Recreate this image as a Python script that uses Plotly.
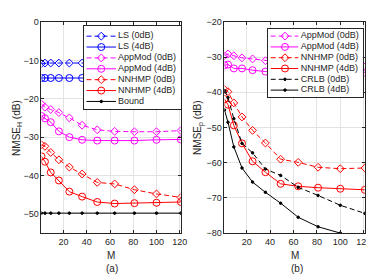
import plotly.graph_objects as go

# ---------------- data ----------------
M = [1, 4, 9, 16, 25, 36, 49, 64, 81, 100, 121]

# panel (a): NMSE_H (dB)
LS_0dB = [-10.8, -10.7, -10.7, -10.7, -10.7, -10.7, -10.7, -10.7, -10.7, -10.7, -10.7]
LS_4dB = [-14.6, -14.6, -14.6, -14.6, -14.6, -14.6, -14.6, -14.6, -14.6, -14.6, -14.6]
APPMOD_A_0dB = [-21.4, -22.2, -22.8, -23.6, -25.0, -26.9, -28.1, -28.5, -28.6, -28.6, -28.3]
APPMOD_A_4dB = [-24.5, -25.1, -26.1, -28.5, -30.0, -30.7, -30.9, -30.9, -30.9, -30.7, -30.6]
NNHMP_A_0dB = [-32.0, -32.4, -34.0, -35.9, -37.8, -39.6, -41.8, -42.2, -43.7, -44.8, -45.7]
NNHMP_A_4dB = [-35.0, -36.4, -39.2, -41.3, -44.2, -45.5, -46.9, -47.3, -47.2, -47.1, -46.9]
BOUND_A = [-49.8, -49.8, -49.8, -49.8, -49.8, -49.8, -49.8, -49.8, -49.8, -49.8, -49.8]

# panel (b): NMSE_p (dB)
APPMOD_B_0dB = [-29.6, -29.1, -29.6, -30.2, -30.5, -31.0, -31.4, -31.8, -32.2, -32.5, -32.8]
APPMOD_B_4dB = [-32.3, -32.1, -33.2, -33.2, -33.7, -34.1, -34.2, -34.3, -34.3, -34.3, -34.4]
NNHMP_B_0dB = [-39.2, -39.8, -43.0, -47.0, -50.8, -54.4, -59.0, -59.9, -61.3, -61.7, -61.5]
NNHMP_B_4dB = [-41.9, -43.5, -49.4, -54.5, -59.6, -62.7, -66.0, -66.7, -67.1, -67.4, -67.7]
CRLB_B_0dB = [-39.5, -41.5, -47.5, -54.5, -57.2, -61.8, -63.6, -67.0, -69.3, -72.1, -74.4]
CRLB_B_4dB = [-45.0, -48.5, -55.5, -61.5, -65.5, -68.4, -71.5, -75.5, -78.2, -80.0, -82.0]

X_TICKS = [20, 40, 60, 80, 100, 120]
Y_TICKS_A = [0, -10, -20, -30, -40, -50]
Y_TICKS_B = [-20, -30, -40, -50, -60, -70, -80]

LEGEND_A = ["LS (0dB)", "LS (4dB)", "AppMod (0dB)", "AppMod (4dB)",
            "NNHMP (0dB)", "NNHMP (4dB)", "Bound"]
LEGEND_B = ["AppMod (0dB)", "AppMod (4dB)", "NNHMP (0dB)", "NNHMP (4dB)",
            "CRLB (0dB)", "CRLB (4dB)"]

# ---------------- styles ----------------
W, H = 374, 278
FONT = "Liberation Sans, Arial, Helvetica, sans-serif"
TXT = "#262626"
GRID = "#e3e3e3"
DASH = "5px,3px"

BLUE, MAG, RED, BLK = "#0000ff", "#ff00ff", "#ff0000", "#000000"

STY = {
    "LS (0dB)":     dict(color=BLUE, dash=DASH,    sym="diamond-open", size=6),
    "LS (4dB)":     dict(color=BLUE, dash="solid", sym="circle-open",  size=7),
    "AppMod (0dB)": dict(color=MAG,  dash=DASH,    sym="diamond-open", size=6),
    "AppMod (4dB)": dict(color=MAG,  dash="solid", sym="circle-open",  size=7),
    "NNHMP (0dB)":  dict(color=RED,  dash=DASH,    sym="diamond-open", size=6),
    "NNHMP (4dB)":  dict(color=RED,  dash="solid", sym="circle-open",  size=7),
    "Bound":        dict(color=BLK,  dash="solid", sym="circle",       size=2.5),
    "CRLB (0dB)":   dict(color=BLK,  dash=DASH,    sym="circle",       size=2.5),
    "CRLB (4dB)":   dict(color=BLK,  dash="solid", sym="circle",       size=2.5),
}

SERIES_A = [("LS (0dB)", LS_0dB), ("LS (4dB)", LS_4dB),
            ("AppMod (0dB)", APPMOD_A_0dB), ("AppMod (4dB)", APPMOD_A_4dB),
            ("NNHMP (0dB)", NNHMP_A_0dB), ("NNHMP (4dB)", NNHMP_A_4dB),
            ("Bound", BOUND_A)]
SERIES_B = [("AppMod (0dB)", APPMOD_B_0dB), ("AppMod (4dB)", APPMOD_B_4dB),
            ("NNHMP (0dB)", NNHMP_B_0dB), ("NNHMP (4dB)", NNHMP_B_4dB),
            ("CRLB (0dB)", CRLB_B_0dB), ("CRLB (4dB)", CRLB_B_4dB)]


def px(x):
    return x / W


def py(y):
    return 1 - y / H


fig = go.Figure()


def add_series(name, ys, xa, ya):
    s = STY[name]
    fig.add_trace(go.Scatter(
        x=M, y=ys, name=name, mode="lines+markers", showlegend=False,
        xaxis=xa, yaxis=ya,
        line=dict(color=s["color"], width=1, dash=s["dash"]),
        marker=dict(symbol=s["sym"], size=s["size"], color=s["color"],
                    line=dict(color=s["color"], width=1)),
    ))


for n, ys in SERIES_A:
    add_series(n, ys, "x", "y")
for n, ys in SERIES_B:
    add_series(n, ys, "x2", "y2")


# ---------------- legends (inset boxes, pixel-unit axes) ----------------
def add_legend(names, xa, ya, line_x, mark_x, text_x):
    for i, n in enumerate(names):
        s = STY[n]
        fig.add_trace(go.Scatter(
            x=line_x, y=[i, i], mode="lines", showlegend=False, hoverinfo="skip",
            xaxis=xa, yaxis=ya,
            line=dict(color=s["color"], width=1, dash=s["dash"])))
        fig.add_trace(go.Scatter(
            x=[mark_x], y=[i], mode="markers", showlegend=False, hoverinfo="skip",
            xaxis=xa, yaxis=ya,
            marker=dict(symbol=s["sym"], size=s["size"], color=s["color"],
                        line=dict(color=s["color"], width=1))))
    fig.add_trace(go.Scatter(
        x=[text_x] * len(names), y=list(range(len(names))), text=names,
        mode="text", textposition="middle right", showlegend=False,
        hoverinfo="skip", xaxis=xa, yaxis=ya, cliponaxis=False,
        textfont=dict(family=FONT, size=9, color=TXT)))


# left legend box: 77.3..175.7 px wide, 13.3..99.3 px tall
add_legend(LEGEND_A, "x3", "y3", [2.5, 32.5], 17.5, 34.5)
# right legend box: 264..360.7 px wide, 16.7..86.7 px tall
add_legend(LEGEND_B, "x4", "y4", [3.0, 31.0], 17.5, 33.5)

axis_common = dict(
    showline=True, mirror="ticks", linecolor=TXT, linewidth=0.8,
    ticks="inside", ticklen=3, tickcolor=TXT, tickwidth=0.8,
    showgrid=True, gridcolor=GRID, gridwidth=0.8, zeroline=False,
    tickfont=dict(family=FONT, size=9, color=TXT),
)
leg_axis = dict(showline=True, mirror=True, linecolor=TXT, linewidth=0.8,
                ticks="", showticklabels=False, showgrid=False, zeroline=False,
                fixedrange=True)

YDOM = [py(228.3), py(9.3)]

fig.update_layout(
    width=W, height=H, autosize=False,
    margin=dict(l=0, r=0, t=0, b=0, pad=0),
    paper_bgcolor="white", plot_bgcolor="white",
    showlegend=False,
    font=dict(family=FONT, size=9, color=TXT),
    xaxis=dict(domain=[px(34.0), px(175.7)], range=[1, 121], tickvals=X_TICKS,
               anchor="y", **axis_common),
    yaxis=dict(domain=YDOM, range=[-55, 0], tickvals=Y_TICKS_A,
               anchor="x", **axis_common),
    xaxis2=dict(domain=[px(220.0), px(362.7)], range=[1, 121], tickvals=X_TICKS,
                anchor="y2", **axis_common),
    yaxis2=dict(domain=YDOM, range=[-80, -20], tickvals=Y_TICKS_B,
                anchor="x2", **axis_common),
    xaxis3=dict(domain=[px(77.3), px(175.7)], range=[0, 98.4], anchor="y3", **leg_axis),
    yaxis3=dict(domain=[py(99.3), py(13.3)], range=[6.67, -0.95], anchor="x3", **leg_axis),
    xaxis4=dict(domain=[px(264.0), px(360.7)], range=[0, 96.7], anchor="y4", **leg_axis),
    yaxis4=dict(domain=[py(86.7), py(16.7)], range=[5.6, -0.65], anchor="x4", **leg_axis),
)

ann = dict(xref="paper", yref="paper", showarrow=False,
           font=dict(family=FONT, size=10, color=TXT))
fig.add_annotation(text="M", x=px(104.9), y=py(251.7), xanchor="center", yanchor="middle", **ann)
fig.add_annotation(text="M", x=px(291.4), y=py(251.7), xanchor="center", yanchor="middle", **ann)
fig.add_annotation(text="(a)", x=px(105.5), y=py(265.5), xanchor="center", yanchor="middle", **ann)
fig.add_annotation(text="(b)", x=px(293.5), y=py(265.5), xanchor="center", yanchor="middle", **ann)
fig.add_annotation(text="NMSE<sub>H</sub> (dB)", x=px(8.5), y=py(118.8), textangle=-90,
                   xanchor="center", yanchor="middle", **ann)
fig.add_annotation(text="NMSE<sub>p</sub> (dB)", x=px(193.5), y=py(118.8), textangle=-90,
                   xanchor="center", yanchor="middle", **ann)

fig.write_html("out.html")
